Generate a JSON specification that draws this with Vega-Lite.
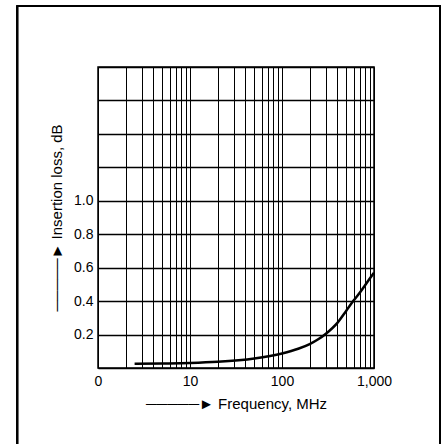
{
  "$schema": "https://vega.github.io/schema/vega-lite/v6.json",
  "width": 276,
  "height": 301,
  "autosize": {"type": "none"},
  "padding": {"left": 98, "top": 67, "right": 73, "bottom": 76},
  "background": "white",
  "config": {
    "view": {"stroke": "black", "strokeWidth": 1.5},
    "font": "Liberation Sans",
    "axis": {
      "grid": true, "gridColor": "black", "gridOpacity": 1, "domain": false,
      "tickSize": 0, "labelOverlap": false, "labelFlush": false,
      "labelFontSize": 14, "labelColor": "black",
      "titleFontSize": 15, "titleFontWeight": "normal", "titleColor": "black"
    },
    "axisX": {"gridWidth": 1, "labelPadding": 6, "titlePadding": 8},
    "axisY": {"gridWidth": 1.5, "labelPadding": 5, "titlePadding": 9}
  },
  "data": {
    "values": [
      {"freq": 2.5, "loss": 0.025},
      {"freq": 5, "loss": 0.027},
      {"freq": 10, "loss": 0.03},
      {"freq": 20, "loss": 0.037},
      {"freq": 50, "loss": 0.057},
      {"freq": 100, "loss": 0.087},
      {"freq": 150, "loss": 0.115},
      {"freq": 200, "loss": 0.143},
      {"freq": 250, "loss": 0.173},
      {"freq": 300, "loss": 0.205},
      {"freq": 400, "loss": 0.27},
      {"freq": 500, "loss": 0.343},
      {"freq": 600, "loss": 0.403},
      {"freq": 700, "loss": 0.45},
      {"freq": 800, "loss": 0.495},
      {"freq": 900, "loss": 0.535},
      {"freq": 1000, "loss": 0.57}
    ]
  },
  "layer": [
    {
      "mark": {"type": "line", "color": "black", "strokeWidth": 2.5, "interpolate": "monotone"},
      "encoding": {
        "x": {
          "field": "freq", "type": "quantitative",
          "scale": {"type": "log", "domain": [1, 1000], "nice": false},
          "title": "─────► Frequency, MHz",
          "axis": {
            "values": [1,2,3,4,5,6,7,8,9,10,20,30,40,50,60,70,80,90,100,200,300,400,500,600,700,800,900,1000],
            "labelExpr": "datum.value == 1 ? '0' : datum.value == 10 ? '10' : datum.value == 100 ? '100' : datum.value == 1000 ? '1,000' : ''"
          }
        },
        "y": {
          "field": "loss", "type": "quantitative",
          "scale": {"domain": [0, 1.8], "nice": false, "zero": false},
          "title": "─────► Insertion loss, dB",
          "axis": {
            "values": [0, 0.2, 0.4, 0.6, 0.8, 1.0, 1.2, 1.4, 1.6, 1.8],
            "labelExpr": "datum.value > 0.1 && datum.value < 1.1 ? format(datum.value, '.1f') : ''"
          }
        }
      }
    },
    {
      "mark": {"type": "rect", "fill": null, "stroke": "black", "strokeWidth": 1.3, "clip": false},
      "encoding": {
        "x": {
          "datum": 0.133, "type": "quantitative",
          "title": "─────► Frequency, MHz",
          "axis": {
            "values": [1,2,3,4,5,6,7,8,9,10,20,30,40,50,60,70,80,90,100,200,300,400,500,600,700,800,900,1000],
            "labelExpr": "datum.value == 1 ? '0' : datum.value == 10 ? '10' : datum.value == 100 ? '100' : datum.value == 1000 ? '1,000' : ''"
          }
        },
        "x2": {"datum": 5256},
        "y": {
          "datum": 2.164, "type": "quantitative",
          "title": "─────► Insertion loss, dB",
          "axis": {
            "values": [0, 0.2, 0.4, 0.6, 0.8, 1.0, 1.2, 1.4, 1.6, 1.8],
            "labelExpr": "datum.value > 0.1 && datum.value < 1.1 ? format(datum.value, '.1f') : ''"
          }
        },
        "y2": {"datum": -0.6}
      }
    }
  ]
}
